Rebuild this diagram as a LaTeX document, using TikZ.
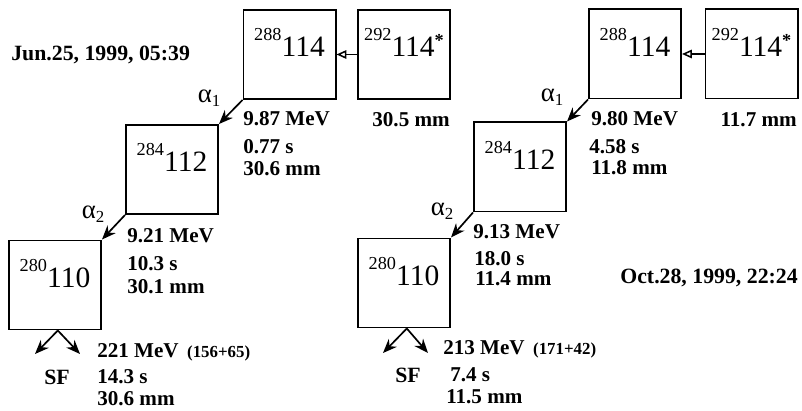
\documentclass[tikz,border=0pt]{standalone}
\usepackage{fontspec}
\setmainfont{Liberation Serif}
\usetikzlibrary{positioning, arrows.meta}

% nucleus label: mass number raised, element number large
\newcommand{\nuc}[2]{\raisebox{11.5pt}{\fontsize{13}{13}\selectfont #1}{\fontsize{21}{22}\selectfont #2}}
\newcommand{\exc}{\raisebox{7pt}{\fontsize{13}{13}\selectfont\bfseries *}}
\newcommand{\alphadec}[1]{α\raisebox{-3pt}{\fontsize{12}{12}\selectfont #1}}

\begin{document}
\begin{tikzpicture}[
        x=0.025cm, y=-0.025cm,
        % box of one nucleus, label above the middle
        nucbox/.style={
            rectangle, draw, line width=1.4pt,
            minimum width=2.3cm, minimum height=2.225cm,
            inner sep=0pt, text depth=17pt
        },
        % energy, time, position lines
        datatext/.style={anchor=west, inner sep=0pt, font=\fontsize{15}{16}\selectfont\bfseries},
        datelabel/.style={inner sep=0pt, font=\fontsize{15.5}{16}\selectfont\bfseries},
        alphalabel/.style={inner sep=0pt, font=\fontsize{19}{20}\selectfont},
        decay/.style={draw, -{Stealth[length=10pt, width=8pt]}, line width=1.2pt},
        capture/.style={draw, -{Triangle[open, length=7pt, width=6pt]}, line width=1.1pt}
    ]

    \path[fill=white, use as bounding box] (0,0) rectangle (802,411);

    % --- Event of Jun.25 ---
    \node [datelabel, anchor=west] (dateL) at (11,55) {Jun.25, 1999, 05:39};

    \node [nucbox] (L288) at (289.5,54.5) {\nuc{288}{114}};
    \node [nucbox] (L292) at (404,54.5) {\nuc{292}{114\exc}};
    \node [nucbox] (L284) at (172,169.5) {\nuc{284}{112}};
    \node [nucbox] (L280) at (55,285) {\nuc{280}{110}};

    \node [datatext, anchor=east] (L292p) at (450,120) {30.5 mm};

    \node [alphalabel] (La1) at (209,98) {\alphadec{1}};
    \node [datatext] (L288e) at (243,119) {9.87 MeV};
    \node [datatext] (L288t) at (243,147) {0.77 s};
    \node [datatext] (L288p) at (243,169) {30.6 mm};

    \node [alphalabel] (La2) at (93,214) {\alphadec{2}};
    \node [datatext] (L284e) at (127,236) {9.21 MeV};
    \node [datatext] (L284t) at (127,264) {10.3 s};
    \node [datatext] (L284p) at (127,287) {30.1 mm};

    \node [datatext] (L280e) at (97,352) {221 MeV\hspace{6pt}{\fontsize{12}{12}\selectfont (156+65)}};
    \node [datatext] (L280t) at (97,377) {14.3 s};
    \node [datatext] (L280p) at (97,399) {30.6 mm};
    \node [datelabel] (LSF) at (57,377) {SF};

    \coordinate (Lff1) at (35,354);
    \coordinate (Lff2) at (80,354);

    \path [capture] (L292.west) -- (L288.east);
    \path [decay] (L288.south west) -- (L284.north east);
    \path [decay] (L284.south west) -- (L280.north east);
    \path [decay] ([xshift=2pt]L280.south) -- (Lff1);
    \path [decay] ([xshift=2pt]L280.south) -- (Lff2);

    % --- Event of Oct.28 ---
    \node [datelabel, anchor=east] (dateR) at (798,278) {Oct.28, 1999, 22:24};

    \node [nucbox] (R288) at (635,54) {\nuc{288}{114}};
    \node [nucbox] (R292) at (751.5,54) {\nuc{292}{114\exc}};
    \node [nucbox] (R284) at (520,167) {\nuc{284}{112}};
    \node [nucbox] (R280) at (404,283) {\nuc{280}{110}};

    \node [datatext, anchor=east] (R292p) at (797,120) {11.7 mm};

    \node [alphalabel] (Ra1) at (552,97) {\alphadec{1}};
    \node [datatext] (R288e) at (591,119) {9.80 MeV};
    \node [datatext] (R288t) at (589,147) {4.58 s};
    \node [datatext] (R288p) at (591,168) {11.8 mm};

    \node [alphalabel] (Ra2) at (442,211) {\alphadec{2}};
    \node [datatext] (R284e) at (473,232) {9.13 MeV};
    \node [datatext] (R284t) at (474,259) {18.0 s};
    \node [datatext] (R284p) at (475,279) {11.4 mm};

    \node [datatext] (R280e) at (443,349) {213 MeV\hspace{6pt}{\fontsize{12}{12}\selectfont (171+42)}};
    \node [datatext] (R280t) at (450,375) {7.4 s};
    \node [datatext] (R280p) at (446,397) {11.5 mm};
    \node [datelabel] (RSF) at (408,375) {SF};

    \coordinate (Rff1) at (383,353);
    \coordinate (Rff2) at (428,353);

    \path [capture] (R292.west) -- (R288.east);
    \path [decay] (R288.south west) -- (R284.north east);
    \path [decay] (R284.south west) -- (R280.north east);
    \path [decay] ([xshift=2pt]R280.south) -- (Rff1);
    \path [decay] ([xshift=2pt]R280.south) -- (Rff2);

\end{tikzpicture}
\end{document}
